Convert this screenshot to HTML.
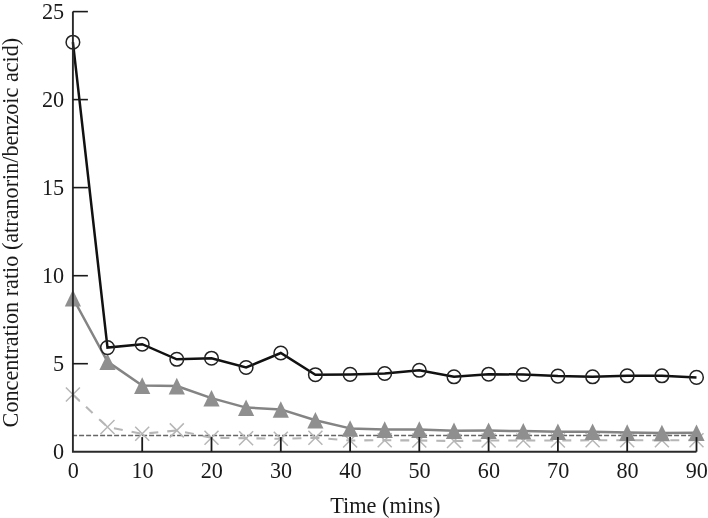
<!DOCTYPE html>
<html><head><meta charset="utf-8"><style>
html,body{margin:0;padding:0;background:#fff;}
body{width:708px;height:518px;overflow:hidden;}
svg{display:block;will-change:transform;}
text{font-family:"Liberation Serif", serif;fill:#1a1a1a;}
</style></head><body>
<svg width="708" height="518" viewBox="0 0 708 518">

<line x1="72.1" y1="435.5" x2="696.5" y2="435.5" stroke="#666" stroke-width="1.4" stroke-dasharray="5 2"/>
<polyline points="72.9,394.5 107.5,427.0 142.2,433.8 176.8,430.4 211.5,437.8 246.1,438.2 280.8,438.8 315.4,437.8 350.1,440.5 384.7,440.2 419.3,440.5 454.0,441.0 488.6,440.5 523.3,440.5 557.9,440.5 592.6,440.3 627.2,440.3 661.9,440.3 696.5,440.3" fill="none" stroke="#b6b6b6" stroke-width="2.1" stroke-dasharray="9 9"/>
<path d="M65.9,387.5L79.9,401.5M65.9,401.5L79.9,387.5" stroke="#b6b6b6" stroke-width="1.5" fill="none"/>
<path d="M100.5,420.0L114.5,434.0M100.5,434.0L114.5,420.0" stroke="#b6b6b6" stroke-width="1.5" fill="none"/>
<path d="M135.2,426.8L149.2,440.8M135.2,440.8L149.2,426.8" stroke="#b6b6b6" stroke-width="1.5" fill="none"/>
<path d="M169.8,423.4L183.8,437.4M169.8,437.4L183.8,423.4" stroke="#b6b6b6" stroke-width="1.5" fill="none"/>
<path d="M204.5,430.8L218.5,444.8M204.5,444.8L218.5,430.8" stroke="#b6b6b6" stroke-width="1.5" fill="none"/>
<path d="M239.1,431.2L253.1,445.2M239.1,445.2L253.1,431.2" stroke="#b6b6b6" stroke-width="1.5" fill="none"/>
<path d="M273.8,431.8L287.8,445.8M273.8,445.8L287.8,431.8" stroke="#b6b6b6" stroke-width="1.5" fill="none"/>
<path d="M308.4,430.8L322.4,444.8M308.4,444.8L322.4,430.8" stroke="#b6b6b6" stroke-width="1.5" fill="none"/>
<path d="M343.1,433.5L357.1,447.5M343.1,447.5L357.1,433.5" stroke="#b6b6b6" stroke-width="1.5" fill="none"/>
<path d="M377.7,433.2L391.7,447.2M377.7,447.2L391.7,433.2" stroke="#b6b6b6" stroke-width="1.5" fill="none"/>
<path d="M412.3,433.5L426.3,447.5M412.3,447.5L426.3,433.5" stroke="#b6b6b6" stroke-width="1.5" fill="none"/>
<path d="M447.0,434.0L461.0,448.0M447.0,448.0L461.0,434.0" stroke="#b6b6b6" stroke-width="1.5" fill="none"/>
<path d="M481.6,433.5L495.6,447.5M481.6,447.5L495.6,433.5" stroke="#b6b6b6" stroke-width="1.5" fill="none"/>
<path d="M516.3,433.5L530.3,447.5M516.3,447.5L530.3,433.5" stroke="#b6b6b6" stroke-width="1.5" fill="none"/>
<path d="M550.9,433.5L564.9,447.5M550.9,447.5L564.9,433.5" stroke="#b6b6b6" stroke-width="1.5" fill="none"/>
<path d="M585.6,433.3L599.6,447.3M585.6,447.3L599.6,433.3" stroke="#b6b6b6" stroke-width="1.5" fill="none"/>
<path d="M620.2,433.3L634.2,447.3M620.2,447.3L634.2,433.3" stroke="#b6b6b6" stroke-width="1.5" fill="none"/>
<path d="M654.9,433.3L668.9,447.3M654.9,447.3L668.9,433.3" stroke="#b6b6b6" stroke-width="1.5" fill="none"/>
<path d="M689.5,433.3L703.5,447.3M689.5,447.3L703.5,433.3" stroke="#b6b6b6" stroke-width="1.5" fill="none"/>
<polyline points="72.9,298.0 107.5,361.6 142.2,385.5 176.8,386.0 211.5,398.1 246.1,407.6 280.8,409.4 315.4,420.2 350.1,428.4 384.7,429.5 419.3,429.5 454.0,430.7 488.6,430.6 523.3,431.1 557.9,431.7 592.6,431.7 627.2,432.5 661.9,432.9 696.5,432.7" fill="none" stroke="#848484" stroke-width="2.5" stroke-linejoin="round"/>
<path d="M72.9,289.8L81.0,306.4L64.8,306.4Z" fill="#8f8f8f"/>
<path d="M107.5,353.4L115.6,370.0L99.4,370.0Z" fill="#8f8f8f"/>
<path d="M142.2,377.3L150.3,393.9L134.1,393.9Z" fill="#8f8f8f"/>
<path d="M176.8,377.8L184.9,394.4L168.7,394.4Z" fill="#8f8f8f"/>
<path d="M211.5,389.9L219.6,406.5L203.4,406.5Z" fill="#8f8f8f"/>
<path d="M246.1,399.4L254.2,416.0L238.0,416.0Z" fill="#8f8f8f"/>
<path d="M280.8,401.2L288.9,417.8L272.7,417.8Z" fill="#8f8f8f"/>
<path d="M315.4,412.0L323.5,428.6L307.3,428.6Z" fill="#8f8f8f"/>
<path d="M350.1,420.2L358.2,436.8L342.0,436.8Z" fill="#8f8f8f"/>
<path d="M384.7,421.3L392.8,437.9L376.6,437.9Z" fill="#8f8f8f"/>
<path d="M419.3,421.3L427.4,437.9L411.2,437.9Z" fill="#8f8f8f"/>
<path d="M454.0,422.5L462.1,439.1L445.9,439.1Z" fill="#8f8f8f"/>
<path d="M488.6,422.4L496.7,439.0L480.5,439.0Z" fill="#8f8f8f"/>
<path d="M523.3,422.9L531.4,439.5L515.2,439.5Z" fill="#8f8f8f"/>
<path d="M557.9,423.5L566.0,440.1L549.8,440.1Z" fill="#8f8f8f"/>
<path d="M592.6,423.5L600.7,440.1L584.5,440.1Z" fill="#8f8f8f"/>
<path d="M627.2,424.3L635.3,440.9L619.1,440.9Z" fill="#8f8f8f"/>
<path d="M661.9,424.7L670.0,441.3L653.8,441.3Z" fill="#8f8f8f"/>
<path d="M696.5,424.5L704.6,441.1L688.4,441.1Z" fill="#8f8f8f"/>
<polyline points="72.9,42.2 107.5,347.6 142.2,344.2 176.8,359.3 211.5,358.2 246.1,367.5 280.8,353.0 315.4,374.7 350.1,374.4 384.7,373.5 419.3,370.3 454.0,376.8 488.6,374.2 523.3,374.5 557.9,376.1 592.6,376.8 627.2,375.8 661.9,375.8 696.5,377.4" fill="none" stroke="#111" stroke-width="2.5" stroke-linejoin="miter"/>
<circle cx="72.9" cy="42.2" r="6.8" fill="none" stroke="#222" stroke-width="1.5"/>
<circle cx="107.5" cy="347.6" r="6.8" fill="none" stroke="#222" stroke-width="1.5"/>
<circle cx="142.2" cy="344.2" r="6.8" fill="none" stroke="#222" stroke-width="1.5"/>
<circle cx="176.8" cy="359.3" r="6.8" fill="none" stroke="#222" stroke-width="1.5"/>
<circle cx="211.5" cy="358.2" r="6.8" fill="none" stroke="#222" stroke-width="1.5"/>
<circle cx="246.1" cy="367.5" r="6.8" fill="none" stroke="#222" stroke-width="1.5"/>
<circle cx="280.8" cy="353.0" r="6.8" fill="none" stroke="#222" stroke-width="1.5"/>
<circle cx="315.4" cy="374.7" r="6.8" fill="none" stroke="#222" stroke-width="1.5"/>
<circle cx="350.1" cy="374.4" r="6.8" fill="none" stroke="#222" stroke-width="1.5"/>
<circle cx="384.7" cy="373.5" r="6.8" fill="none" stroke="#222" stroke-width="1.5"/>
<circle cx="419.3" cy="370.3" r="6.8" fill="none" stroke="#222" stroke-width="1.5"/>
<circle cx="454.0" cy="376.8" r="6.8" fill="none" stroke="#222" stroke-width="1.5"/>
<circle cx="488.6" cy="374.2" r="6.8" fill="none" stroke="#222" stroke-width="1.5"/>
<circle cx="523.3" cy="374.5" r="6.8" fill="none" stroke="#222" stroke-width="1.5"/>
<circle cx="557.9" cy="376.1" r="6.8" fill="none" stroke="#222" stroke-width="1.5"/>
<circle cx="592.6" cy="376.8" r="6.8" fill="none" stroke="#222" stroke-width="1.5"/>
<circle cx="627.2" cy="375.8" r="6.8" fill="none" stroke="#222" stroke-width="1.5"/>
<circle cx="661.9" cy="375.8" r="6.8" fill="none" stroke="#222" stroke-width="1.5"/>
<circle cx="696.5" cy="377.4" r="6.8" fill="none" stroke="#222" stroke-width="1.5"/>
<path d="M72.9,11.6 V451.7 H696.5" fill="none" stroke="#2a2a2a" stroke-width="1.9" stroke-linejoin="miter"/>
<line x1="72.9" y1="363.7" x2="87.9" y2="363.7" stroke="#1a1a1a" stroke-width="1.6"/>
<text transform="translate(64.1,370.8) scale(0.965,1)" font-size="23" text-anchor="end">5</text>
<line x1="72.9" y1="275.7" x2="87.9" y2="275.7" stroke="#1a1a1a" stroke-width="1.6"/>
<text transform="translate(64.1,282.8) scale(0.965,1)" font-size="23" text-anchor="end">10</text>
<line x1="72.9" y1="187.6" x2="87.9" y2="187.6" stroke="#1a1a1a" stroke-width="1.6"/>
<text transform="translate(64.1,194.7) scale(0.965,1)" font-size="23" text-anchor="end">15</text>
<line x1="72.9" y1="99.6" x2="87.9" y2="99.6" stroke="#1a1a1a" stroke-width="1.6"/>
<text transform="translate(64.1,106.7) scale(0.965,1)" font-size="23" text-anchor="end">20</text>
<line x1="72.9" y1="11.6" x2="87.9" y2="11.6" stroke="#1a1a1a" stroke-width="1.6"/>
<text transform="translate(64.1,18.7) scale(0.965,1)" font-size="23" text-anchor="end">25</text>
<text transform="translate(64.1,459.0) scale(0.965,1)" font-size="23" text-anchor="end">0</text>
<line x1="142.2" y1="451.7" x2="142.2" y2="437.1" stroke="#1a1a1a" stroke-width="1.8"/>
<line x1="211.5" y1="451.7" x2="211.5" y2="437.1" stroke="#1a1a1a" stroke-width="1.8"/>
<line x1="280.8" y1="451.7" x2="280.8" y2="437.1" stroke="#1a1a1a" stroke-width="1.8"/>
<line x1="350.1" y1="451.7" x2="350.1" y2="437.1" stroke="#1a1a1a" stroke-width="1.8"/>
<line x1="419.3" y1="451.7" x2="419.3" y2="437.1" stroke="#1a1a1a" stroke-width="1.8"/>
<line x1="488.6" y1="451.7" x2="488.6" y2="437.1" stroke="#1a1a1a" stroke-width="1.8"/>
<line x1="557.9" y1="451.7" x2="557.9" y2="437.1" stroke="#1a1a1a" stroke-width="1.8"/>
<line x1="627.2" y1="451.7" x2="627.2" y2="437.1" stroke="#1a1a1a" stroke-width="1.8"/>
<line x1="696.5" y1="451.7" x2="696.5" y2="437.1" stroke="#1a1a1a" stroke-width="1.8"/>
<text transform="translate(73.2,477.7) scale(0.965,1)" font-size="23" text-anchor="middle">0</text>
<text transform="translate(142.5,477.7) scale(0.965,1)" font-size="23" text-anchor="middle">10</text>
<text transform="translate(211.8,477.7) scale(0.965,1)" font-size="23" text-anchor="middle">20</text>
<text transform="translate(281.1,477.7) scale(0.965,1)" font-size="23" text-anchor="middle">30</text>
<text transform="translate(350.4,477.7) scale(0.965,1)" font-size="23" text-anchor="middle">40</text>
<text transform="translate(419.6,477.7) scale(0.965,1)" font-size="23" text-anchor="middle">50</text>
<text transform="translate(488.9,477.7) scale(0.965,1)" font-size="23" text-anchor="middle">60</text>
<text transform="translate(558.2,477.7) scale(0.965,1)" font-size="23" text-anchor="middle">70</text>
<text transform="translate(627.5,477.7) scale(0.965,1)" font-size="23" text-anchor="middle">80</text>
<text transform="translate(696.8,477.7) scale(0.965,1)" font-size="23" text-anchor="middle">90</text>
<text transform="translate(385.3,512.9) scale(0.972,1)" font-size="23" text-anchor="middle">Time (mins)</text>
<text transform="translate(18.2,232.6) rotate(-90) scale(0.9645,1)" x="0" y="0" font-size="23" text-anchor="middle">Concentration ratio (atranorin/benzoic acid)</text>
</svg></body></html>
